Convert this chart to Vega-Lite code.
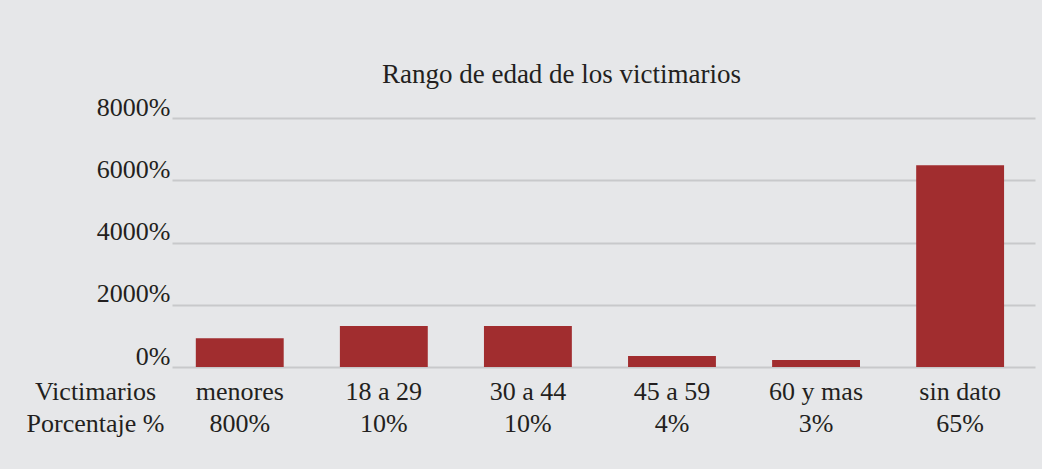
{
  "$schema": "https://vega.github.io/schema/vega-lite/v6.json",
  "autosize": {"type": "none"},
  "width": 863,
  "height": 249,
  "padding": {"left": 172, "top": 118, "right": 7, "bottom": 102},
  "background": "#e6e7e9",
  "title": {
    "text": "Rango de edad de los victimarios",
    "font": "Liberation Serif",
    "fontSize": 27,
    "fontWeight": "normal",
    "color": "#231f20",
    "anchor": "middle",
    "dx": -42,
    "baseline": "alphabetic",
    "offset": -16
  },
  "data": {
    "values": [
      {"Victimarios": "menores", "Porcentaje": "800%", "valor": 920},
      {"Victimarios": "18 a 29", "Porcentaje": "10%", "valor": 1316},
      {"Victimarios": "30 a 44", "Porcentaje": "10%", "valor": 1316},
      {"Victimarios": "45 a 59", "Porcentaje": "4%", "valor": 353},
      {"Victimarios": "60 y mas", "Porcentaje": "3%", "valor": 225},
      {"Victimarios": "sin dato", "Porcentaje": "65%", "valor": 6482}
    ]
  },
  "encoding": {
    "x": {
      "field": "Victimarios",
      "type": "nominal",
      "sort": null,
      "scale": {"paddingInner": 0.39, "paddingOuter": 0.19, "align": 0.435},
      "axis": {
        "title": ["Victimarios", "Porcentaje %"],
        "titleFont": "Liberation Serif",
        "titleFontSize": 26,
        "titleFontWeight": "normal",
        "titleColor": "#231f20",
        "titleX": -77,
        "titleY": 32,
        "titleAlign": "center",
        "titleBaseline": "alphabetic",
        "titleLineHeight": 32,
        "titleAngle": 0,
        "labelFont": "Liberation Serif",
        "labelFontSize": 26,
        "labelColor": "#231f20",
        "labelAngle": 0,
        "labelBaseline": "alphabetic",
        "labelPadding": 32,
        "ticks": false,
        "domain": false,
        "grid": false
      }
    }
  },
  "layer": [
    {
      "mark": {"type": "bar", "color": "#a12d2f"},
      "encoding": {
        "y": {
          "field": "valor",
          "type": "quantitative",
          "scale": {"domain": [0, 8000], "nice": false},
          "axis": {
            "title": null,
            "values": [0, 2000, 4000, 6000, 8000],
            "labelExpr": "datum.value + '%'",
            "labelFont": "Liberation Serif",
            "labelFontSize": 26,
            "labelColor": "#231f20",
            "labelBaseline": "alphabetic",
            "labelOffset": -3,
            "labelPadding": 2,
            "ticks": false,
            "domain": false,
            "grid": true,
            "gridColor": "#c8c9cb",
            "gridWidth": 2
          }
        }
      }
    },
    {
      "mark": {
        "type": "text",
        "font": "Liberation Serif",
        "fontSize": 26,
        "color": "#231f20",
        "baseline": "alphabetic",
        "dy": 65
      },
      "encoding": {
        "y": {"datum": 0, "type": "quantitative"},
        "text": {"field": "Porcentaje", "type": "nominal"}
      }
    }
  ],
  "config": {"view": {"stroke": null}}
}
